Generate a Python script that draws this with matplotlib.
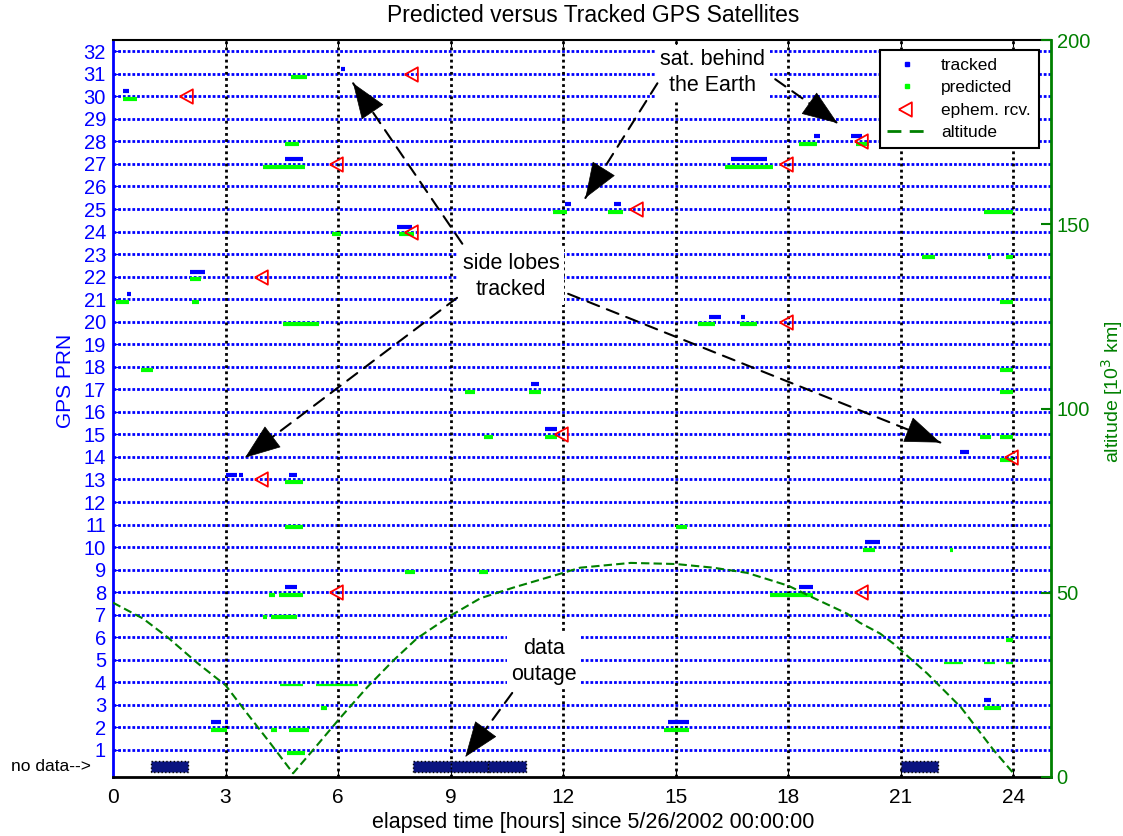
import matplotlib
matplotlib.use("Agg")
import matplotlib.pyplot as plt
from matplotlib.lines import Line2D

plt.rcParams['font.family'] = ['Liberation Sans', 'DejaVu Sans']

# tracked / predicted visibility windows: (PRN, start hour, end hour)
tracked = [
    (30, 0.26, 0.42), (31, 6.08, 6.19), (27, 4.59, 5.06), (24, 7.56, 7.96),
    (22, 2.04, 2.45), (21, 0.38, 0.47), (13, 3.0, 3.3), (13, 3.37, 3.46),
    (13, 4.69, 4.9), (8, 4.59, 4.9), (2, 2.61, 2.87), (2, 2.99, 3.07),
    (25, 12.05, 12.2), (25, 13.34, 13.54), (27, 16.48, 17.43),
    (28, 18.68, 18.83), (28, 19.68, 19.95), (20, 15.89, 16.2),
    (20, 16.75, 16.85), (17, 11.15, 11.36), (15, 11.52, 11.83),
    (10, 20.05, 20.43), (8, 18.29, 18.66), (2, 14.78, 15.36),
    (14, 22.57, 22.82), (3, 23.21, 23.4),
]
predicted = [
    (30, 0.26, 0.63), (31, 4.74, 5.16), (28, 4.59, 4.96), (27, 4.01, 5.12),
    (24, 5.83, 6.07), (24, 7.63, 8.01), (22, 2.04, 2.35), (21, 0.07, 0.43),
    (21, 2.1, 2.29), (20, 4.54, 5.49), (18, 0.75, 1.07), (17, 9.39, 9.65),
    (13, 4.59, 5.06), (11, 4.59, 5.06), (9, 7.79, 8.05), (9, 9.75, 10.0),
    (8, 4.16, 4.32), (8, 4.43, 5.06), (7, 4.01, 4.1), (7, 4.21, 4.9),
    (3, 5.55, 5.7), (2, 2.61, 3.03), (2, 4.21, 4.36), (2, 4.69, 5.23),
    (1, 4.65, 5.12), (25, 11.74, 12.11), (25, 13.18, 13.6),
    (27, 16.32, 17.6), (28, 18.29, 18.76), (28, 19.79, 20.16),
    (20, 15.58, 16.05), (20, 16.7, 17.16), (17, 11.1, 11.41),
    (15, 11.52, 11.83), (15, 9.88, 10.12), (11, 15.0, 15.3),
    (10, 20.0, 20.32), (8, 17.5, 18.67), (2, 14.68, 15.36),
    (25, 23.21, 24.0), (23, 21.55, 21.92), (23, 23.31, 23.4),
    (23, 23.79, 24.0), (21, 23.63, 24.0), (18, 23.63, 24.0),
    (17, 23.63, 24.0), (15, 23.1, 23.4), (15, 23.63, 24.0),
    (14, 23.63, 24.0), (10, 22.3, 22.39), (6, 23.8, 24.0),
    (3, 23.21, 23.68),
]
# low-elevation predictions (drawn thinner)
predicted_low = [
    (4, 4.45, 5.06), (4, 5.4, 6.54), (5, 22.14, 22.66),
    (5, 23.21, 23.52), (5, 23.8, 24.0),
]

ephem_hours = [2, 8, 6, 8, 4, 4, 6, 12, 14, 18, 20, 18, 20, 24]
ephem_prn = [30, 31, 27, 24, 22, 13, 8, 15, 25, 27, 28, 20, 8, 14]

# hours with no receiver data
nodata_start = [1, 8, 9, 10, 21]

alt_hours = [0, 0.8, 1.47, 2.24, 3.0, 3.57, 4.19, 4.8, 5.33, 6.0, 6.77, 7.47,
             8.1, 9.0, 9.79, 10.67, 12.0, 12.45, 13.8, 15.0, 16.0, 16.9,
             18.0, 18.67, 19.57, 19.9, 20.45, 20.8, 21.7, 22.6, 23.47, 24.0]
alt_km = [47.3, 43.0, 37.8, 31.0, 24.9, 17.3, 9.2, 1.0, 7.3, 15.4, 24.3, 31.6,
          37.6, 43.8, 48.5, 51.4, 55.4, 56.8, 58.1, 57.8, 56.8, 55.4,
          51.9, 48.6, 44.3, 41.9, 38.9, 36.2, 28.1, 18.9, 7.3, 1.0]

BLUE = '#0000ff'
GREEN = '#00ff00'
DKGREEN = '#008000'

fig = plt.figure(figsize=(11.23, 8.36), dpi=100)
ax = fig.add_axes([113 / 1123, 1 - 777 / 836, 938 / 1123, 737 / 836])

ax.set_xlim(0, 25)
ax.set_ylim(-0.2, 32.5)

# grid
for p in range(1, 33):
    ax.axhline(p, color=BLUE, lw=2, ls=(0, (1, 0.7)), zorder=1)
for h in range(3, 25, 3):
    ax.axvline(h, color='black', lw=2, ls=(0, (1, 1.2)), zorder=1)

ax.hlines([p + 0.22 for p, s, e in tracked], [s for p, s, e in tracked],
          [e for p, s, e in tracked], colors=BLUE, lw=3, zorder=3)
ax.hlines([p - 0.12 for p, s, e in predicted], [s for p, s, e in predicted],
          [e for p, s, e in predicted], colors=GREEN, lw=3, zorder=3)
ax.hlines([p - 0.12 for p, s, e in predicted_low], [s for p, s, e in predicted_low],
          [e for p, s, e in predicted_low], colors=GREEN, lw=1.6, zorder=3)

tri = [(-4 / 3, 0), (2 / 3, 1.1), (2 / 3, -1.1), (-4 / 3, 0)]
ax.plot(ephem_hours, ephem_prn, ls='none', marker=tri, ms=12.5, mfc='none',
        mec='red', mew=1.3, zorder=4, clip_on=False)

ax.broken_barh([(s, 1) for s in nodata_start], (0.0, 0.5), facecolor='#0a1480',
               edgecolor='black', linestyle=':', lw=1, zorder=3)
ax.text(-0.6, 0.27, 'no data-->', ha='right', va='center', fontsize=12.5)

# annotations
box = dict(facecolor='white', edgecolor='none', boxstyle='square,pad=0.2')
for x, y, s in [(15.99, 31.07, 'sat. behind\nthe Earth'),
                (10.61, 21.99, 'side lobes\ntracked'),
                (11.49, 4.94, 'data\noutage')]:
    ax.text(x, y, s, ha='center', va='center', fontsize=15.5, linespacing=1.3,
            bbox=box, zorder=5)

arrows = [((14.51, 30.58), (12.59, 25.49)),
          ((17.65, 30.76), (19.31, 28.81)),
          ((9.31, 23.46), (6.4, 30.58)),
          ((9.17, 21.06), (3.52, 13.97)),
          ((12.13, 21.24), (22.05, 14.64)),
          ((10.64, 3.53), (9.39, 0.69))]
for tail, head in arrows:
    ax.annotate('', xy=head, xytext=tail, zorder=6,
                arrowprops=dict(arrowstyle='-', linestyle=(0, (6, 4)), lw=1.5,
                                color='black', shrinkA=0, shrinkB=0))
    # solid filled head
    pre = (head[0] - 0.02 * (head[0] - tail[0]), head[1] - 0.02 * (head[1] - tail[1]))
    ax.annotate('', xy=head, xytext=pre, zorder=6,
                arrowprops=dict(arrowstyle='-|>,head_length=1.2,head_width=0.45',
                                lw=0.5, color='black', mutation_scale=20,
                                shrinkA=0, shrinkB=0))

ax.set_xticks(range(0, 25, 3))
ax.set_yticks(range(1, 33))
ax.tick_params(axis='x', direction='in', length=5, pad=8, labelsize=15,
               top=True)
ax.tick_params(axis='y', direction='in', length=5, pad=5, labelsize=14.5,
               colors=BLUE, right=True)
ax.spines['left'].set_color(BLUE)
ax.spines['left'].set_linewidth(2)
ax.spines['bottom'].set_linewidth(2)
ax.spines['top'].set_linewidth(1.5)
ax.spines['right'].set_visible(False)
ax.set_xlabel('elapsed time [hours] since 5/26/2002 00:00:00', fontsize=15.5)
ax.xaxis.set_label_coords(0.512, -0.047)
ax.set_ylabel('GPS PRN', fontsize=15, color=BLUE)
ax.yaxis.set_label_coords(-0.0405, 0.537)
ax.set_title('Predicted versus Tracked GPS Satellites', fontsize=16.5, pad=13,
             x=0.512)

ax2 = ax.twinx()
ax2.set_ylim(0, 200)
ax2.plot(alt_hours, alt_km, color=DKGREEN, lw=1.5, ls=(0, (4, 2)))
ax2.set_yticks([0, 50, 100, 150, 200])
ax2.tick_params(axis='y', direction='in', length=7, width=1.5, pad=4,
                labelsize=14.5, colors=DKGREEN)
for s in ['left', 'top', 'bottom']:
    ax2.spines[s].set_visible(False)
ax2.spines['right'].set_color(DKGREEN)
ax2.spines['right'].set_linewidth(2)
ax2.set_ylabel('altitude [10$^3$ km]', fontsize=14, color=DKGREEN)
ax2.yaxis.set_label_coords(1.051, 0.522)

handles = [
    Line2D([], [], ls='none', marker='s', ms=3, color=BLUE),
    Line2D([], [], ls='none', marker='s', ms=3, color=GREEN),
    Line2D([], [], ls='none', marker=tri, ms=12.5, mfc='none', mec='red', mew=1.3),
    Line2D([], [], color=DKGREEN, lw=2, ls=(0, (5, 3))),
]
leg = ax2.legend(handles, ['tracked', 'predicted', 'ephem. rcv.', 'altitude'],
                 loc='upper right', bbox_to_anchor=(0.987, 0.9864),
                 borderaxespad=0, fontsize=12.5, fancybox=False, framealpha=1,
                 edgecolor='black', labelspacing=0.42, handlelength=2.2,
                 handletextpad=0.9, borderpad=0.45)
leg.get_frame().set_linewidth(1.5)

fig.savefig('out.png', dpi=100)
